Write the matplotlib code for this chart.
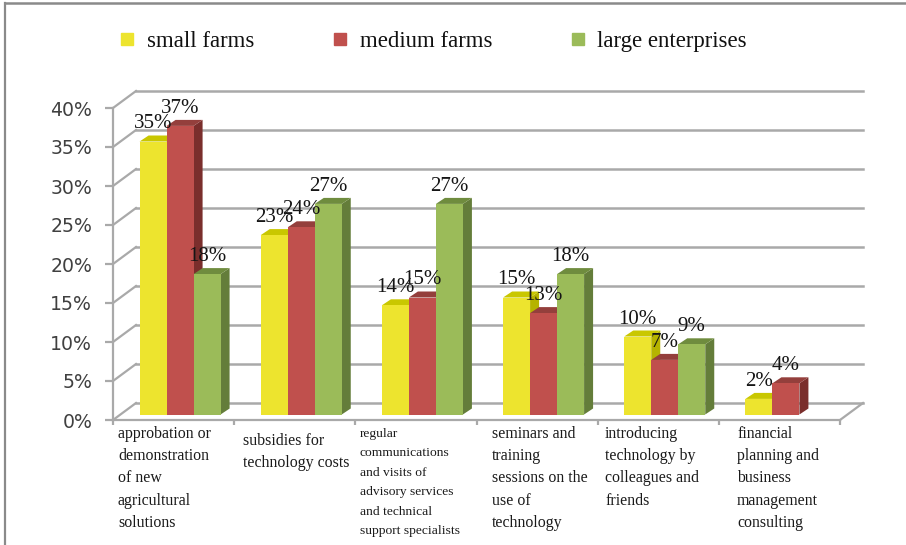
import numpy as np
import matplotlib
matplotlib.use("Agg")
import matplotlib.pyplot as plt
from matplotlib.lines import Line2D
from matplotlib.patches import Polygon
from matplotlib.transforms import Affine2D

# --- Data ---
categories = [
    "approbation or\ndemonstration\nof new\nagricultural\nsolutions",
    "subsidies for\ntechnology costs",
    "regular\ncommunications\nand visits of\nadvisory services\nand technical\nsupport specialists",
    "seminars and\ntraining\nsessions on the\nuse of\ntechnology",
    "introducing\ntechnology by\ncolleagues and\nfriends",
    "financial\nplanning and\nbusiness\nmanagement\nconsulting",
]
small_farms = [35, 23, 14, 15, 10, 2]
medium_farms = [37, 24, 15, 13, 7, 4]
large_enterprises = [18, 27, 27, 18, 9, np.nan]
series_names = ["small farms", "medium farms", "large enterprises"]
y_ticks = [0, 5, 10, 15, 20, 25, 30, 35, 40]

# --- Layout (pixels of the 906x545 picture) ---
W, H = 906, 545
X0, X1, Y0, Y40 = 113, 840, 420, 108
WALL_DX, WALL_DY = 23, 17      # depth of the floor
BAR_DX, BAR_DY = 9, 6          # depth of a bar
BASE_DX, BASE_DY = 6.5, 5.5    # where the bars stand on the floor
BAR_W = 27 / 121.17
label_left = [118, 243, 360, 492, 605, 737]
label_top = [426, 433, 428, 426, 426, 426]
label_size = [11.4, 11.4, 9.7, 11.4, 11.4, 11.4]
label_spacing = [1.52, 1.52, 1.82, 1.52, 1.52, 1.52]

colors = ["#EDE42E", "#C0504D", "#9BBB59"]
top_colors = ["#C9C700", "#943F3C", "#6F8C3E"]
side_colors = ["#B5B300", "#7A2E2C", "#647D3A"]
GRID = "#A9A9A9"
SERIF = "Liberation Serif"

fig = plt.figure(figsize=(W / 100, H / 100), dpi=100)
ax = fig.add_axes([X0 / W, 1 - Y0 / H, (X1 - X0) / W, (Y0 - Y40) / H])
ax.set_xlim(0, 6)
ax.set_ylim(0, 40)
ax.patch.set_visible(False)
for s in ["top", "right"]:
    ax.spines[s].set_visible(False)
for s in ["left", "bottom"]:
    ax.spines[s].set_color(GRID)
    ax.spines[s].set_linewidth(1.6)

ax.set_yticks(y_ticks)
ax.set_yticklabels([f"{v}%" for v in y_ticks], fontsize=13.6, color="#404040",
                   family="DejaVu Sans")
ax.set_xticks(range(7))
ax.set_xticklabels([])
ax.tick_params(axis="y", length=6, width=1.6, color=GRID, pad=9)
ax.tick_params(axis="x", length=3.5, width=1.6, color=GRID)

# back wall lines and the floor diagonals
wall = ax.transData + Affine2D().translate(WALL_DX, WALL_DY)
wall_dx_u = WALL_DX * 6 / (X1 - X0)
wall_dy_u = WALL_DY * 40 / (Y0 - Y40)
for v in y_ticks:
    ax.plot([0, 6], [v, v], color=GRID, lw=1.8, transform=wall, zorder=1, clip_on=False)
    ax.plot([0, wall_dx_u], [v, v + wall_dy_u], color=GRID, lw=1.6, zorder=1, clip_on=False)
ax.plot([6, 6 + wall_dx_u], [0, wall_dy_u], color=GRID, lw=1.6, zorder=1, clip_on=False)

# --- Bars ---
front = ax.transData + Affine2D().translate(BASE_DX, BASE_DY)
all_series = [small_farms, medium_farms, large_enterprises]
dx_u = BAR_DX * 6 / (X1 - X0)
dy_u = BAR_DY * 40 / (Y0 - Y40)
z = 3
for g in range(len(categories)):
    for k, values in enumerate(all_series):
        v = values[g]
        if np.isnan(v):
            continue
        left = g + 0.5 + (k - 1.5) * BAR_W
        right = left + BAR_W
        ax.add_patch(Polygon([(right, 0), (right + dx_u, dy_u), (right + dx_u, v + dy_u), (right, v)],
                             facecolor=side_colors[k], edgecolor="none", transform=front,
                             zorder=z, clip_on=False))
        ax.add_patch(Polygon([(left, v), (left + dx_u, v + dy_u), (right + dx_u, v + dy_u), (right, v)],
                             facecolor=top_colors[k], edgecolor="none", transform=front,
                             zorder=z, clip_on=False))
        ax.bar(left, v, BAR_W, align="edge", color=colors[k], transform=front, zorder=z + 0.5,
               clip_on=False)
        ax.text(left + BAR_W / 2, v + dy_u, f"{v}%", transform=front + Affine2D().translate(0, 7),
                ha="center", va="baseline", fontsize=15, family=SERIF, color="#151515", zorder=20)
        z += 1

# --- Category labels ---
px = Affine2D().scale(1, -1).translate(0, H)
for name, x, y, size, sp in zip(categories, label_left, label_top, label_size, label_spacing):
    ax.text(x, y, name, transform=px, ha="left", va="top", fontsize=size, family=SERIF,
            color="#1a1a1a", linespacing=sp, clip_on=False)

# --- Legend ---
handles = [Line2D([], [], ls="none", marker="s", ms=8.3, mfc=c, mec=c) for c in colors]
leg = fig.legend(handles, series_names, loc="lower left", bbox_to_anchor=(117 / W, 1 - 52 / H),
                 ncol=3, frameon=False, prop={"family": SERIF, "size": 16.4},
                 handlelength=0.9, handletextpad=0.42, columnspacing=3.3, borderaxespad=0, borderpad=0)
for t in leg.get_texts():
    t.set_color("#111111")

# --- Outer frame ---
fig.add_artist(Line2D([5 / W, 5 / W], [0, 1 - 3 / H], color="#8A8A8A", lw=1.6))
fig.add_artist(Line2D([5 / W, 1], [1 - 3 / H, 1 - 3 / H], color="#8A8A8A", lw=1.8))

fig.savefig("out.png", dpi=100)
